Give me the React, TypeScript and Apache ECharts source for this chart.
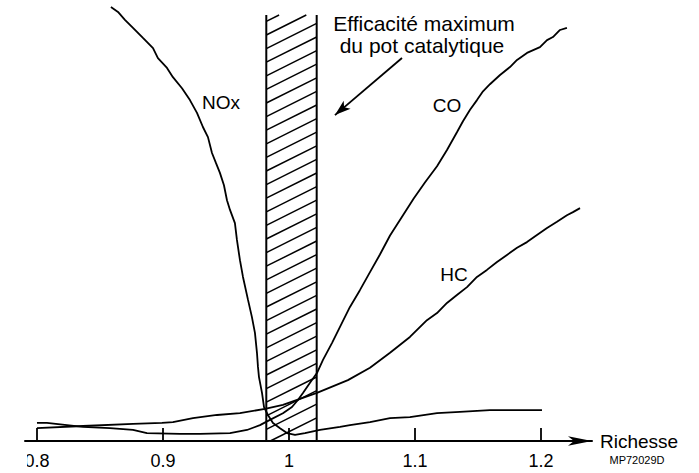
import React, { useEffect, useRef } from 'react';
import * as echarts from 'echarts';

const FONT = '"Liberation Sans", Arial, Helvetica, sans-serif';

const TICKS = [0.8, 0.9, 1, 1.1, 1.2];

// Richesse (x) vs relative emission level (y, 0..100)
const NOX: [number, number][] = [
  [0.8587, 98.4], [0.8643, 97.3], [0.8698, 95.5], [0.8762, 93.7], [0.8841, 91.4],
  [0.8921, 89.1], [0.896, 86.8], [0.9032, 84.6], [0.9079, 82.5], [0.9151, 80.0],
  [0.9214, 77.3], [0.927, 74.4], [0.9317, 71.2], [0.9357, 68.9], [0.9389, 65.3],
  [0.9421, 63.0], [0.9452, 60.8], [0.9484, 58.0], [0.9508, 54.6], [0.9532, 52.4],
  [0.9571, 49.4], [0.9587, 45.6], [0.9611, 41.0], [0.9635, 37.2], [0.9675, 32.0],
  [0.9706, 28.1], [0.973, 24.5], [0.9746, 20.0], [0.9754, 16.8], [0.9762, 14.5],
  [0.9786, 10.9], [0.9802, 7.7], [0.9833, 5.9], [0.9873, 4.1], [0.9929, 2.9],
  [0.9984, 1.8], [1.0048, 1.4], [1.0127, 1.8], [1.0246, 2.5], [1.0405, 3.2],
  [1.0484, 3.6], [1.0643, 4.3], [1.0802, 5.2], [1.096, 5.4], [1.1175, 6.3],
  [1.1357, 6.6], [1.1595, 7.0], [1.2008, 7.0],
];

const CO: [number, number][] = [
  [0.8, 4.1], [0.8079, 4.1], [0.8238, 3.6], [0.8365, 3.2], [0.8579, 2.9],
  [0.8762, 2.5], [0.8873, 1.8], [0.9135, 1.6], [0.9294, 1.6], [0.9532, 1.8],
  [0.9667, 2.5], [0.977, 3.6], [0.9849, 4.8], [0.9952, 6.3], [1.0024, 7.7],
  [1.0071, 9.3], [1.0111, 10.9], [1.0167, 13.2], [1.0222, 15.4], [1.027, 18.4],
  [1.0341, 22.2], [1.0405, 25.9], [1.0484, 30.4], [1.0563, 34.2], [1.0643, 38.3],
  [1.0722, 42.3], [1.0802, 46.6], [1.0905, 51.2], [1.099, 55.0], [1.1079, 58.6],
  [1.1175, 62.3], [1.1254, 66.0], [1.1333, 70.0], [1.1381, 72.5], [1.1437, 75.1],
  [1.1492, 77.3], [1.154, 79.3], [1.1595, 80.9], [1.1675, 83.0], [1.1754, 84.8],
  [1.181, 86.4], [1.1889, 88.0], [1.1992, 89.3], [1.2048, 90.9], [1.2095, 91.6],
  [1.2151, 93.2], [1.2206, 93.7],
];

const HC: [number, number][] = [
  [0.8, 2.9], [0.8365, 3.4], [0.8762, 3.9], [0.8992, 4.1], [0.9079, 4.3],
  [0.9238, 5.2], [0.9429, 5.9], [0.9611, 6.3], [0.981, 7.3], [0.9952, 8.2],
  [1.0222, 10.9], [1.0468, 13.8], [1.0643, 16.6], [1.0802, 20.0], [1.096, 23.6],
  [1.1095, 27.4], [1.1175, 29.0], [1.1254, 31.3], [1.1333, 33.1], [1.1413, 34.9],
  [1.1492, 37.2], [1.1571, 38.8], [1.1651, 40.6], [1.173, 42.2], [1.181, 43.8],
  [1.1889, 45.1], [1.1968, 46.7], [1.2048, 48.3], [1.2127, 49.7], [1.2206, 51.2],
  [1.2254, 51.9], [1.231, 52.8],
];

// catalytic converter window: richesse from / to, top level
const ZONE = [0.982, 1.022, 96.6];
// pointer arrow from the caption to the window
const ARROW: [number, number][] = [[1.0897, 86.85], [1.0365, 73.9]];

const CAPTION = ['Efficacité maximum', 'du pot catalytique'];
const CURVE_NAMES = ['NOx', 'CO', 'HC'];

export default function App() {
  const ref = useRef<HTMLDivElement>(null);

  useEffect(() => {
    const chart = echarts.init(ref.current!, null, { renderer: 'svg' });

    const lineSeries = (name: string, data: [number, number][], extra: any = {}) => ({
      type: 'line',
      name,
      data,
      showSymbol: false,
      symbol: 'none',
      silent: true,
      lineStyle: { color: '#000', width: 1.8 },
      z: 3,
      ...extra,
    });

    const option: any = {
      animation: false,
      backgroundColor: '#fff',
      grid: { left: 25, right: 107, top: 0, bottom: 32 },
      xAxis: {
        type: 'value',
        min: 0.7905,
        max: 1.2405,
        name: 'Richesse',
        nameLocation: 'end',
        nameGap: 8,
        nameTextStyle: { color: '#000', fontSize: 19, fontFamily: FONT, verticalAlign: 'middle', padding: [4, 0, 0, 0] },
        axisLine: {
          show: true,
          symbol: ['none', 'arrow'],
          symbolSize: [7, 24],
          lineStyle: { color: '#000', width: 2 },
        },
        axisTick: {
          show: true,
          inside: true,
          length: 13,
          customValues: TICKS,
          lineStyle: { color: '#000', width: 1.8 },
        },
        axisLabel: {
          show: true,
          customValues: TICKS,
          color: '#000',
          fontSize: 18,
          fontFamily: FONT,
          margin: 11,
        },
        splitLine: { show: false },
      },
      yAxis: { type: 'value', min: 0, max: 100, show: false },
      series: [
        lineSeries(CURVE_NAMES[0], NOX, {
          markLine: {
            silent: true,
            symbol: ['none', 'arrow'],
            symbolSize: [8, 16],
            label: { show: false },
            lineStyle: { color: '#000', width: 1.8, type: 'solid' },
            data: [[{ coord: ARROW[0] }, { coord: ARROW[1] }]],
          },
        }),
        lineSeries(CURVE_NAMES[1], CO),
        lineSeries(CURVE_NAMES[2], HC),
        {
          type: 'custom',
          silent: true,
          clip: false,
          z: 2,
          data: [ZONE],
          renderItem: (params: any, api: any) => {
            const p0 = api.coord([api.value(0), api.value(2)]);
            const p1 = api.coord([api.value(1), 0]);
            const left = p0[0], right = p1[0], top = p0[1], bottom = p1[1];
            const w = right - left;
            const slope = 0.5;
            const spacing = 13.6;
            const style = { stroke: '#000', lineWidth: 1.5, fill: null };
            const children: any[] = [
              { type: 'line', shape: { x1: left, y1: top, x2: left, y2: bottom }, style: { stroke: '#000', lineWidth: 2 } },
              { type: 'line', shape: { x1: right, y1: top, x2: right, y2: bottom }, style: { stroke: '#000', lineWidth: 2 } },
            ];
            for (let c = bottom + 2; c >= top - 0.01; c -= spacing) {
              let xa = left, ya = c;
              let xb = right, yb = c - slope * w;
              if (ya > bottom) { xa = left + (ya - bottom) / slope; ya = bottom; }
              if (yb < top) { xb = left + (c - top) / slope; yb = top; }
              if (xb > xa) children.push({ type: 'line', shape: { x1: xa, y1: ya, x2: xb, y2: yb }, style });
            }
            return { type: 'group', children };
          },
        },
      ],
      graphic: [
        { type: 'rect', left: 0, top: 446, shape: { x: 0, y: 0, width: 27, height: 27 }, style: { fill: '#fff' }, z: 100 },
        { type: 'text', x: 424, y: 23.5, z: 10, style: { text: CAPTION[0], fill: '#000', fontSize: 21, fontFamily: FONT, align: 'center', verticalAlign: 'middle' } },
        { type: 'text', x: 422, y: 45, z: 10, style: { text: CAPTION[1], fill: '#000', fontSize: 21, fontFamily: FONT, align: 'center', verticalAlign: 'middle' } },
        { type: 'text', x: 221, y: 102.5, z: 10, style: { text: CURVE_NAMES[0], fill: '#000', fontSize: 19, fontFamily: FONT, align: 'center', verticalAlign: 'middle' } },
        { type: 'text', x: 447, y: 105.5, z: 10, style: { text: CURVE_NAMES[1], fill: '#000', fontSize: 19, fontFamily: FONT, align: 'center', verticalAlign: 'middle' } },
        { type: 'text', x: 454, y: 274, z: 10, style: { text: CURVE_NAMES[2], fill: '#000', fontSize: 19, fontFamily: FONT, align: 'center', verticalAlign: 'middle' } },
        { type: 'text', x: 637, y: 460, z: 10, style: { text: 'MP72029D', fill: '#000', fontSize: 11, fontFamily: FONT, align: 'center', verticalAlign: 'middle' } },
      ],
    };

    chart.setOption(option);
    return () => chart.dispose();
  }, []);

  return (
    <div
      ref={ref}
      style={{ position: 'fixed', left: 0, top: 0, width: 699, height: 473, background: '#fff' }}
    />
  );
}
